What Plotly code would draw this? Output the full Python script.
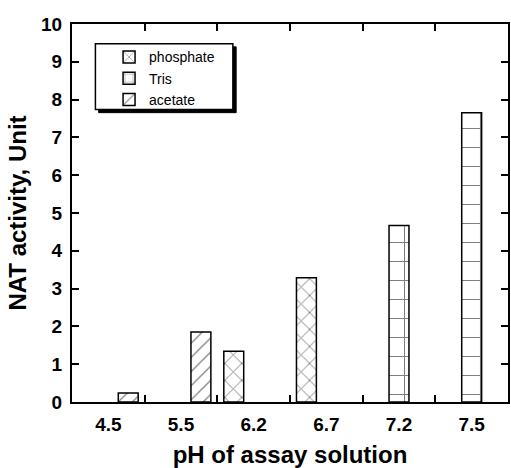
import plotly.graph_objects as go

# pH of each assay solution (category order on the x axis)
ph_labels = ["4.5", "5.5", "6.2", "6.7", "7.2", "7.5"]

# NAT activity per buffer; None where that buffer was not used
phosphate = [None, None, 1.34, 3.29, None, None]
tris = [None, None, None, None, 4.67, 7.65]
acetate = [0.24, 1.85, None, None, None, None]

series = [
    ("phosphate", phosphate, "x", 12, 0.15),
    ("Tris", tris, "+", 19, 0.11),
    ("acetate", acetate, "/", 10, 0.13),
]

FONT = "Arial, Liberation Sans, Helvetica, sans-serif"

fig = go.Figure()
for name, vals, shape, size, solid in series:
    fig.add_trace(go.Bar(
        x=ph_labels,
        y=vals,
        name=name,
        marker=dict(
            color="white",
            line=dict(color="black", width=1.5),
            pattern=dict(shape=shape, size=size, solidity=solid,
                         fgcolor="black", bgcolor="white"),
        ),
    ))

# legend frame with a drop shadow
lx0, lx1, ly0, ly1 = 0.0537, 0.369, 0.774, 0.948
sx, sy = 0.0075, 0.0085
fig.add_shape(type="rect", xref="paper", yref="paper",
              x0=lx0 + sx, x1=lx1 + sx, y0=ly0 - sy, y1=ly1 - sy,
              fillcolor="black", line=dict(color="black", width=1),
              layer="above")
fig.add_shape(type="rect", xref="paper", yref="paper",
              x0=lx0, x1=lx1, y0=ly0, y1=ly1,
              fillcolor="white", line=dict(color="black", width=1.5),
              layer="above")

fig.update_layout(
    width=511,
    height=468,
    margin=dict(l=72, r=1, t=24, b=66),
    paper_bgcolor="white",
    plot_bgcolor="white",
    barmode="group",
    bargap=0.178,
    bargroupgap=0,
    font=dict(family=FONT, color="black"),
    showlegend=True,
    legend=dict(
        x=0.085, y=0.954, xanchor="left", yanchor="top",
        bgcolor="rgba(0,0,0,0)", borderwidth=0,
        font=dict(family=FONT, size=14, color="black"),
        tracegroupgap=0,
        itemwidth=30,
    ),
    xaxis=dict(
        type="category",
        categoryorder="array",
        categoryarray=ph_labels,
        tickson="boundaries",
        ticks="inside",
        ticklen=7,
        tickwidth=2,
        tickcolor="black",
        showline=True,
        linewidth=2,
        linecolor="black",
        mirror="ticks",
        showgrid=False,
        zeroline=False,
        ticklabelstandoff=4,
        tickfont=dict(family=FONT, size=19, weight="bold"),
        title=dict(text="pH of assay solution",
                   font=dict(family=FONT, size=24, weight="bold"),
                   standoff=12),
    ),
    yaxis=dict(
        range=[0, 10],
        dtick=1,
        ticks="inside",
        ticklen=7,
        tickwidth=2,
        tickcolor="black",
        showline=True,
        linewidth=2,
        linecolor="black",
        mirror="ticks",
        showgrid=False,
        zeroline=False,
        ticklabelstandoff=4,
        tickfont=dict(family=FONT, size=19, weight="bold"),
        title=dict(text="NAT activity, Unit",
                   font=dict(family=FONT, size=24, weight="bold"),
                   standoff=8),
    ),
)

fig.write_html("out.html")
